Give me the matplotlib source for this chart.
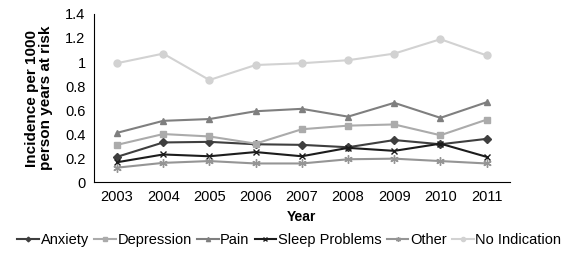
import matplotlib
matplotlib.use("Agg")
import matplotlib.pyplot as plt
import numpy as np

# Data
years = ["2003", "2004", "2005", "2006", "2007", "2008", "2009", "2010", "2011"]
anxiety = [0.21, 0.33, 0.335, 0.315, 0.31, 0.29, 0.35, 0.315, 0.36]
depression = [0.31, 0.40, 0.38, 0.32, 0.44, 0.47, 0.48, 0.39, 0.52]
pain = [0.41, 0.51, 0.525, 0.59, 0.61, 0.545, 0.66, 0.535, 0.665]
sleep_problems = [0.165, 0.23, 0.215, 0.25, 0.215, 0.285, 0.26, 0.32, 0.21]
other = [0.12, 0.16, 0.175, 0.155, 0.155, 0.19, 0.195, 0.175, 0.155]
no_indication = [0.99, 1.07, 0.85, 0.975, 0.99, 1.015, 1.07, 1.19, 1.055]

plt.rcParams['font.family'] = ['Liberation Sans', 'DejaVu Sans']

fig = plt.figure(figsize=(5.76, 2.59), dpi=100)
ax = fig.add_axes([0.163, 0.297, 0.722, 0.649])

x = np.arange(len(years))

# series: (label, values, colour, marker, marker size)
series = [
    ("Anxiety", anxiety, "#3f3f3f", "D", 4),
    ("Depression", depression, "#ababab", "s", 5),
    ("Pain", pain, "#7f7f7f", "^", 5),
    ("Sleep Problems", sleep_problems, "#1c1c1c", "x", 5),
    ("Other", other, "#959595", (6, 2, 0), 6),
    ("No Indication", no_indication, "#d2d2d2", "o", 5),
]

for name, vals, col, mk, ms in series:
    ax.plot(x, vals, color=col, marker=mk, markersize=ms, linewidth=1.5,
            markeredgewidth=1.0, label=name)

ax.set_xlim(-0.5, len(years) - 0.5)
ax.set_ylim(0, 1.4)
ax.set_yticks(np.arange(0, 1.41, 0.2))
ax.set_yticklabels(["0", "0.2", "0.4", "0.6", "0.8", "1", "1.2", "1.4"])
ax.set_xticks(x)
ax.set_xticklabels(years)
ax.tick_params(axis='both', length=0, labelsize=10.5, pad=6)

for s in ["top", "right"]:
    ax.spines[s].set_visible(False)
ax.spines["left"].set_color("black")
ax.spines["bottom"].set_color("black")

ax.set_ylabel("Incidence per 1000\nperson years at risk", fontsize=11,
              fontweight='bold', labelpad=9, linespacing=1.0)
ax.set_xlabel("Year", fontsize=10, fontweight='bold', labelpad=4)

fig.legend(*ax.get_legend_handles_labels(), loc='center',
           bbox_to_anchor=(0.502, 0.073), ncol=6, frameon=False,
           fontsize=10.5, handlelength=1.5, handletextpad=0.1,
           columnspacing=0.35, borderaxespad=0, markerscale=0.6)

fig.savefig("out.png", dpi=100)
